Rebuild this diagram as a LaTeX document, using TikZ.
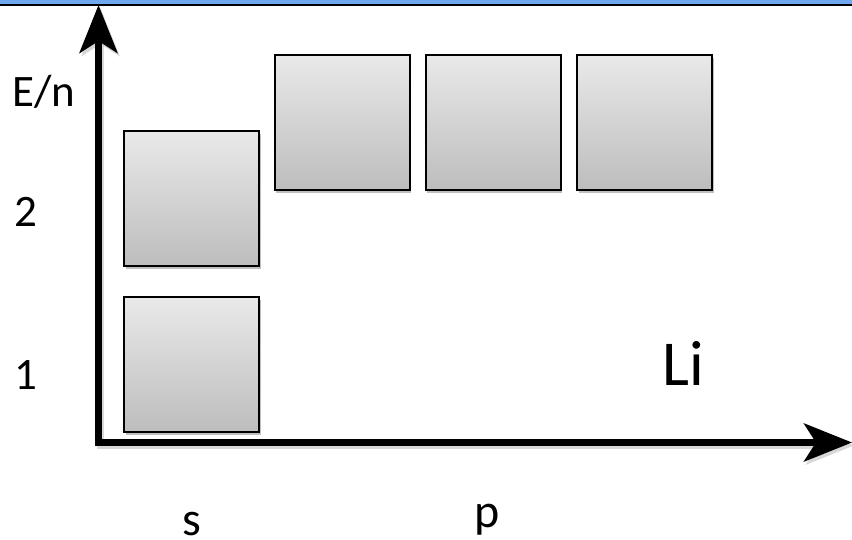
\documentclass[tikz,border=0pt]{standalone}
\usepackage{fontspec}
\setmainfont{Carlito}
\usetikzlibrary{arrows.meta,shadows}
\definecolor{barblue}{RGB}{112,168,240}
\definecolor{boxtop}{RGB}{233,233,233}
\definecolor{boxbot}{RGB}{189,189,189}
\tikzset{
  orbital/.style={draw=black, line width=2pt, minimum size=135pt, inner sep=0pt,
    top color=boxtop, bottom color=boxbot,
    drop shadow={shadow xshift=1.5pt, shadow yshift=-3pt, fill=black, opacity=0.25}},
  axis/.style={line width=6.5pt, line join=miter,
    arrows={Stealth[length=48pt, width=38pt, inset=12pt]-Stealth[length=48pt, width=38pt, inset=12pt]}},
  lbl/.style={inner sep=0pt, font=\fontsize{45}{54}\selectfont},
}
\begin{document}
\begin{tikzpicture}[x=1pt,y=-1pt]
\useasboundingbox (0,0) rectangle (852,540);
\fill[white] (0,0) rectangle (852,540);
% top bar
\fill[barblue] (0,0) rectangle (852,4.5);
\draw[black, line width=1.5pt] (0,5) -- (852,5);
% axes
\coordinate (ytip) at (98.5,5);
\coordinate (origin) at (98.5,442.5);
\coordinate (xtip) at (852,442.5);
\draw[axis, black!25, opacity=0.6] ([shift={(2,3)}]ytip) -- ([shift={(2,3)}]origin) -- ([shift={(2,3)}]xtip);
\draw[axis] (ytip) -- (origin) -- (xtip);
% orbital boxes
\node[orbital] (s1) at (191.5,364.5) {};
\node[orbital] (s2) at (191.5,198.5) {};
\node[orbital] (p1) at (342,122.4) {};
\node[orbital] (p2) at (493.4,122.4) {};
\node[orbital] (p3) at (644.7,122.4) {};
% labels
\node[lbl, anchor=base west] (en) at (12,107) {E/n};
\node[lbl, anchor=base west] (n2) at (14,227) {2};
\node[lbl, anchor=base west] (n1) at (14,389) {1};
\node[inner sep=0pt, font=\fontsize{64}{76}\selectfont, anchor=base west] (li) at (662,385) {Li};
\node[lbl, anchor=base west, font=\fontsize{48}{58}\selectfont] (s) at (182,535) {s};
\node[lbl, anchor=base west, font=\fontsize{48}{58}\selectfont] (p) at (474,527) {p};
\end{tikzpicture}
\end{document}
